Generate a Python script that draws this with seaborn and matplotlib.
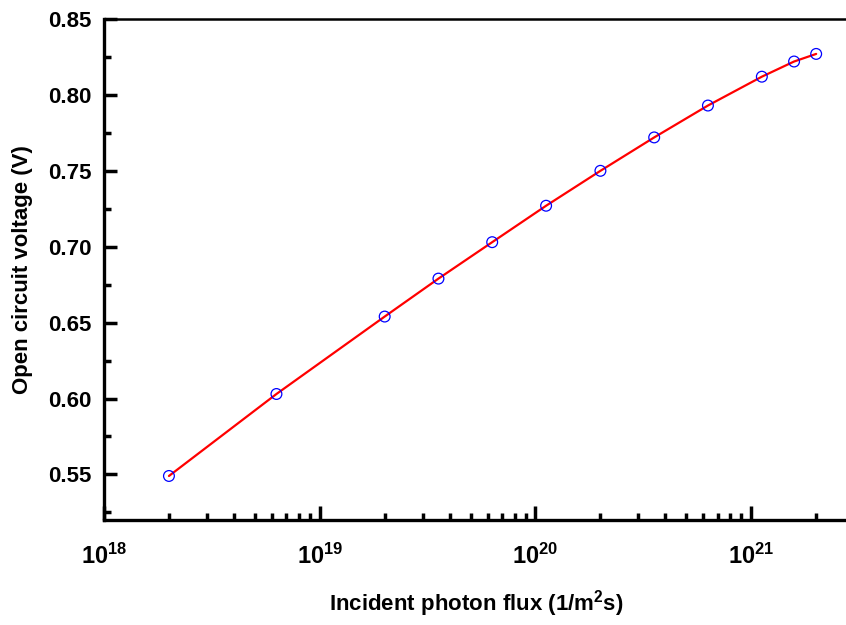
import numpy as np
import pandas as pd
import matplotlib
matplotlib.use("Agg")
import matplotlib.pyplot as plt
import seaborn as sns
from matplotlib.ticker import MultipleLocator, LogLocator, NullFormatter

# data
photon_flux = [2.0e18, 6.3e18, 2.0e19, 3.55e19, 6.3e19, 1.12e20, 2.0e20,
               3.55e20, 6.3e20, 1.12e21, 1.58e21, 2.0e21]
voc = [0.549, 0.603, 0.654, 0.679, 0.703, 0.727, 0.750,
       0.772, 0.793, 0.812, 0.822, 0.827]

df = pd.DataFrame({"flux": photon_flux, "voc": voc})

sns.set_theme(style="ticks")
plt.rcParams['font.family'] = ['Liberation Sans', 'DejaVu Sans']
plt.rcParams['font.weight'] = 'bold'
plt.rcParams['text.color'] = 'black'
plt.rcParams['axes.labelcolor'] = 'black'
plt.rcParams['xtick.color'] = 'black'
plt.rcParams['ytick.color'] = 'black'
plt.rcParams['mathtext.fontset'] = 'custom'
plt.rcParams['mathtext.rm'] = 'Liberation Sans:bold'
plt.rcParams['mathtext.bf'] = 'Liberation Sans:bold'
plt.rcParams['mathtext.it'] = 'Liberation Sans:bold'
plt.rcParams['mathtext.default'] = 'bf'

fig = plt.figure(figsize=(8.46, 6.25), dpi=100)
ax = fig.add_axes([104/846, 1-520/625, 1-104/846 + 0.002, (520-19)/625])

sns.lineplot(data=df, x="flux", y="voc", ax=ax, color="red", linewidth=1.6,
             zorder=2)
sns.scatterplot(data=df, x="flux", y="voc", ax=ax, s=60, facecolor="none",
                edgecolor="blue", linewidth=0.9, zorder=3)

ax.set_xscale("log")
ax.set_xlim(1e18, 2.8e21)
ax.set_ylim(0.52, 0.85)

ax.yaxis.set_major_locator(MultipleLocator(0.05))
ax.yaxis.set_minor_locator(MultipleLocator(0.025))
ax.yaxis.set_major_formatter(matplotlib.ticker.FormatStrFormatter('%.2f'))
ax.xaxis.set_major_locator(LogLocator(base=10, numticks=10))
ax.xaxis.set_minor_locator(LogLocator(base=10, subs=np.arange(2, 10), numticks=20))
ax.xaxis.set_minor_formatter(NullFormatter())

ax.tick_params(axis='both', which='major', direction='in', width=2.5,
               color='black', labelcolor='black')
ax.tick_params(axis='y', which='major', length=9, pad=9, labelsize=16)
ax.tick_params(axis='y', which='minor', direction='in', length=5, width=2.5,
               color='black')
ax.tick_params(axis='x', which='major', length=10, pad=17, labelsize=17)
ax.tick_params(axis='x', which='minor', direction='in', length=5, width=2.5,
               color='black')

for lab in ax.get_yticklabels() + ax.get_xticklabels():
    lab.set_fontweight('bold')

ax.spines['left'].set_linewidth(2.4)
ax.spines['bottom'].set_linewidth(2.4)
ax.spines['top'].set_linewidth(1.8)
ax.spines['right'].set_visible(False)
for s in ax.spines.values():
    s.set_color('black')

ax.set_xlabel(r"Incident photon flux (1/m$^2$s)", fontsize=16,
              fontweight='bold', labelpad=14, color='black')
ax.set_ylabel("Open circuit voltage (V)", fontsize=16, fontweight='bold',
              labelpad=11, color='black')
ax.grid(False)

fig.savefig("out.png", dpi=100)
